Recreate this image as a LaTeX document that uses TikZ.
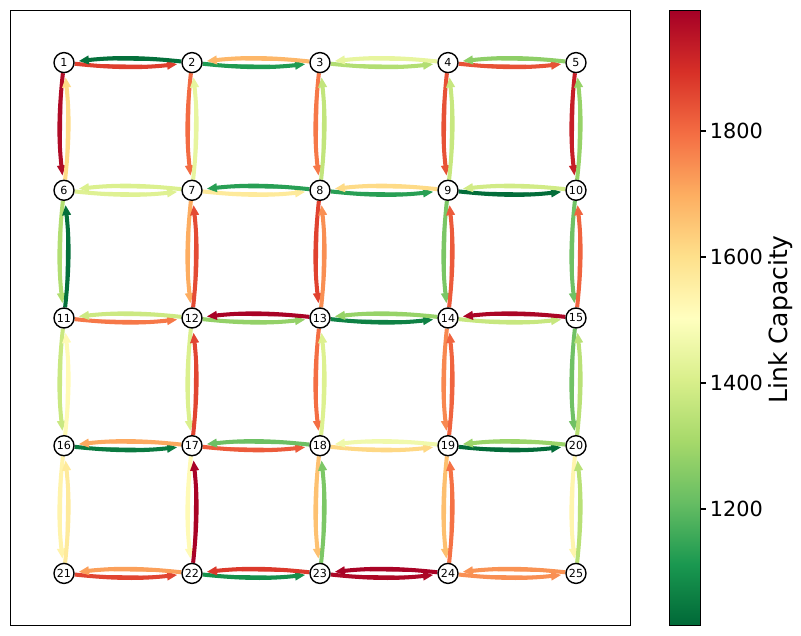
\documentclass[tikz,border=0pt]{standalone}
\usepackage{fontspec}
\setmainfont{DejaVu Sans}
\usetikzlibrary{arrows.meta,backgrounds}
\definecolor{cm0}{HTML}{006837}
\definecolor{cm1}{HTML}{1A9850}
\definecolor{cm2}{HTML}{66BD63}
\definecolor{cm3}{HTML}{A6D96A}
\definecolor{cm4}{HTML}{D9EF8B}
\definecolor{cm5}{HTML}{FFFFBF}
\definecolor{cm6}{HTML}{FEE08B}
\definecolor{cm7}{HTML}{FDAE61}
\definecolor{cm8}{HTML}{F46D43}
\definecolor{cm9}{HTML}{D73027}
\definecolor{cm10}{HTML}{A50026}
\pgfdeclareverticalshading{rdylgn}{100bp}{color(0bp)=(cm0); color(25bp)=(cm0); color(30bp)=(cm1); color(35bp)=(cm2); color(40bp)=(cm3); color(45bp)=(cm4); color(50bp)=(cm5); color(55bp)=(cm6); color(60bp)=(cm7); color(65bp)=(cm8); color(70bp)=(cm9); color(75bp)=(cm10); color(100bp)=(cm10)}
\newcommand\mapcolor[1]{%
  \pgfmathsetmacro\mct{max(0,min(9.999,((#1)-1014)/97.8))}%
  \pgfmathtruncatemacro\mck{floor(\mct)}%
  \pgfmathtruncatemacro\mcn{\mck+1}%
  \pgfmathtruncatemacro\mcf{round(100*(1-(\mct-\mck)))}%
  \edef\mcexpr{cm\mck!\mcf!cm\mcn}%
  \colorlet{cur}{\mcexpr}%
}
\tikzset{
  vertex/.style={circle, draw=black, fill=white, line width=1pt, minimum size=14.4pt, inner sep=0pt, font=\fontsize{8}{8}\selectfont},
  linkarrow/.style={line width=2.9pt, -{Triangle[length=7.4pt,width=6pt]}, shorten >=2.9pt},
  frameline/.style={line width=0.8pt, draw=black},
  ticklabel/.style={anchor=west, inner sep=0pt, font=\fontsize{15}{15}\selectfont}
}
\begin{document}
\begin{tikzpicture}[x=0.72pt, y=-0.72pt]
\useasboundingbox (0,0) rectangle (801,636);
% nodes
\foreach \r in {0,...,4}{
  \foreach \c in {0,...,4}{
    \pgfmathtruncatemacro\idx{\r*5+\c+1}
    \node[vertex] (n\idx) at ({64+128*\c},{62.6+127.7*\r}) {\idx};
  }
}
% edges
\begin{scope}[on background layer]
\foreach \a/\b/\v in {
  1/2/1870, 2/1/1030, 2/3/1120, 3/2/1680, 3/4/1330, 4/3/1440, 4/5/1840, 5/4/1270,
  6/7/1420, 7/6/1410, 7/8/1570, 8/7/1130, 8/9/1130, 9/8/1610, 9/10/1025, 10/9/1390,
  11/12/1780, 12/11/1380, 12/13/1280, 13/12/1985, 13/14/1065, 14/13/1285, 14/15/1370, 15/14/1980,
  16/17/1050, 17/16/1705, 17/18/1825, 18/17/1220, 18/19/1615, 19/18/1465, 19/20/1020, 20/19/1290,
  21/22/1860, 22/21/1720, 22/23/1095, 23/22/1880, 23/24/1975, 24/23/1985, 24/25/1745, 25/24/1740,
  1/6/1970, 6/1/1610, 6/11/1330, 11/6/1030, 11/16/1375, 16/11/1520, 16/21/1540, 21/16/1570,
  2/7/1800, 7/2/1440, 7/12/1700, 12/7/1850, 12/17/1410, 17/12/1860, 17/22/1520, 22/17/1985,
  3/8/1780, 8/3/1360, 8/13/1865, 13/8/1745, 13/18/1795, 18/13/1415, 18/23/1660, 23/18/1245,
  4/9/1840, 9/4/1370, 9/14/1240, 14/9/1825, 14/19/1755, 19/14/1810, 19/24/1665, 24/19/1790,
  5/10/1930, 10/5/1285, 10/15/1225, 15/10/1810, 15/20/1225, 20/15/1345, 20/25/1535, 25/20/1345}{
  \mapcolor{\v}
  \draw[linkarrow, draw=cur, fill=cur] (n\a) to[bend right=6] (n\b);
}
\end{scope}
% axes frame
\draw[frameline] (10.5,10.3) rectangle (630.5,625.7);
% colorbar
\shade[shading=rdylgn] (669.3,10.3) rectangle (700.3,625.7);
\draw[frameline] (669.3,10.3) rectangle (700.3,625.7);
\foreach \t/\y in {1200/509,1400/383,1600/257,1800/131}{
  \draw[frameline] (700.3,\y) -- (705.5,\y);
  \node[ticklabel] (t\t) at (709.5,\y) {\t};
}
\node[rotate=90, inner sep=0pt, font=\fontsize{18}{18}\selectfont] (cblabel) at (781,319.5) {Link Capacity};
\end{tikzpicture}
\end{document}
